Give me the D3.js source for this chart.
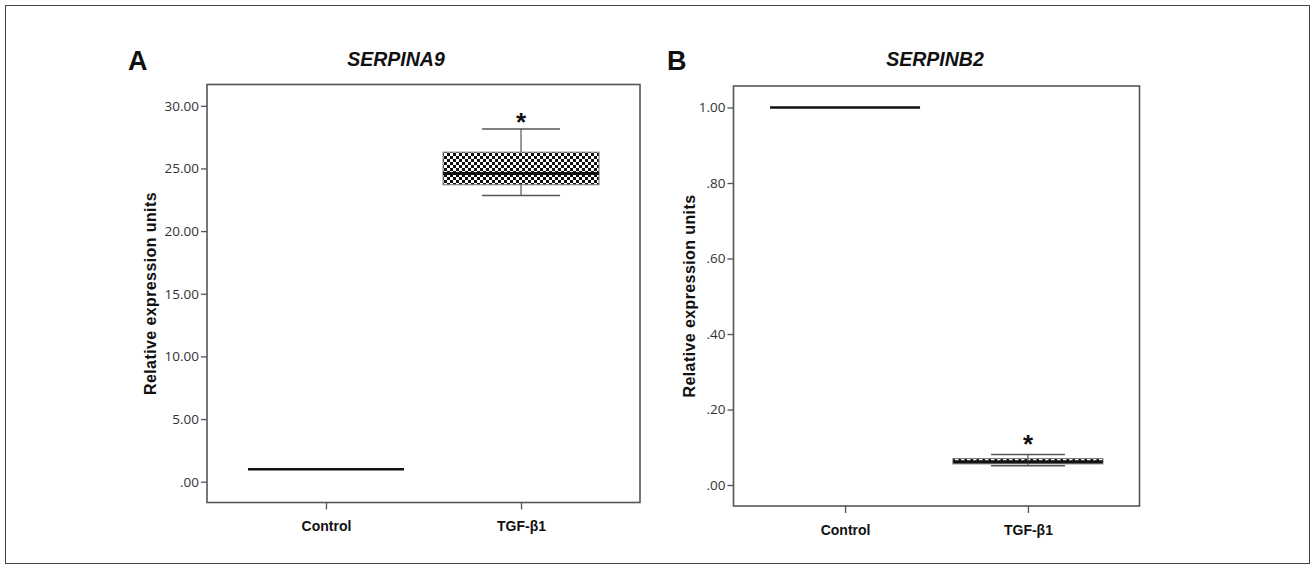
<!DOCTYPE html>
<html><head><meta charset="utf-8">
<script src="https://cdn.jsdelivr.net/npm/d3@7"></script>
<style>body{margin:0;background:#fff}svg{display:block}</style>
</head><body>
<svg id="chart" width="1315" height="569"></svg>
<script>
// ---- data ----
const groups = ["Control", "TGF-β1"];
const titles = ["SERPINA9", "SERPINB2"];
const panelLetters = ["A", "B"];
const yLabel = "Relative expression units";
// box stats [min, q1, median, q3, max] for Control, TGF-β1
const statsA = [[1.0, 1.0, 1.0, 1.0, 1.0], [22.85, 23.7, 24.6, 26.3, 28.15]];
const statsB = [[1.0, 1.0, 1.0, 1.0, 1.0], [0.051, 0.056, 0.062, 0.070, 0.081]];
const ticksA = [0, 5, 10, 15, 20, 25, 30];
const tickLabelsA = [".00", "5.00", "10.00", "15.00", "20.00", "25.00", "30.00"];
const ticksB = [0, 0.2, 0.4, 0.6, 0.8, 1.0];
const tickLabelsB = [".00", ".20", ".40", ".60", ".80", "1.00"];
const domainA = [-1.66, 31.7];
const domainB = [-0.0556, 1.057];
const signif = [false, true];

// ---- layout ----
const svg = d3.select("#chart");
svg.append("rect").attr("x", 5.5).attr("y", 5.5).attr("width", 1304).attr("height", 558)
  .attr("fill", "none").attr("stroke", "#444").attr("stroke-width", 1);

const defs = svg.append("defs");
const pA = defs.append("pattern").attr("id", "checkA").attr("patternUnits", "userSpaceOnUse")
  .attr("width", 6).attr("height", 6);
pA.append("rect").attr("width", 6).attr("height", 6).attr("fill", "#fff");
pA.append("rect").attr("x", 0).attr("y", 0).attr("width", 3).attr("height", 3).attr("fill", "#111");
pA.append("rect").attr("x", 3).attr("y", 3).attr("width", 3).attr("height", 3).attr("fill", "#111");
const pB = defs.append("pattern").attr("id", "dashB").attr("patternUnits", "userSpaceOnUse")
  .attr("width", 6).attr("height", 6).attr("y", 0.5);
pB.append("rect").attr("width", 6).attr("height", 6).attr("fill", "#111");
pB.append("rect").attr("x", 1).attr("y", 2).attr("width", 3.5).attr("height", 2).attr("fill", "#fff");

const panels = [
  {left: 207, right: 640, top: 84.5, bottom: 502.5, stats: statsA, ticks: ticksA, tl: tickLabelsA,
   domain: domainA, fill: "url(#checkA)", half: 78, cap: 39, letterX: 128, titleX: 396, labelX: 150, starDy: 7.5, medW: 3},
  {left: 733.5, right: 1139.5, top: 86, bottom: 506, stats: statsB, ticks: ticksB, tl: tickLabelsB,
   domain: domainB, fill: "url(#dashB)", half: 75, cap: 37, letterX: 667, titleX: 935, labelX: 689, starDy: 10.5, medW: 2}
];

panels.forEach((p, i) => {
  const g = svg.append("g");
  const y = d3.scaleLinear().domain(p.domain).range([p.bottom, p.top]);
  const x = d3.scalePoint().domain(groups).range([p.left, p.right]).padding(0.61);

  g.append("rect").attr("x", p.left).attr("y", p.top).attr("width", p.right - p.left)
    .attr("height", p.bottom - p.top).attr("fill", "none").attr("stroke", "#555").attr("stroke-width", 1.6);

  const ya = d3.axisLeft(y).tickValues(p.ticks).tickSize(6).tickPadding(2)
    .tickFormat((d, k) => p.tl[k]);
  const yg = g.append("g").attr("transform", `translate(${p.left},0)`).call(ya);
  yg.select(".domain").remove();
  yg.selectAll(".tick line").attr("stroke", "#555").attr("stroke-width", 1.3);
  yg.selectAll(".tick text").attr("font-family", "'Open Sans', sans-serif").attr("font-size", 13.5)
    .attr("fill", "#333");

  const xa = d3.axisBottom(x).tickSize(7).tickPadding(12);
  const xg = g.append("g").attr("transform", `translate(0,${p.bottom})`).call(xa);
  xg.select(".domain").remove();
  xg.selectAll(".tick line").attr("stroke", "#555").attr("stroke-width", 1.3);
  xg.selectAll(".tick text").attr("font-family", "'Liberation Sans', Arial, sans-serif")
    .attr("font-weight", "bold").attr("font-size", 14).attr("fill", "#111");

  groups.forEach((grp, k) => {
    const s = p.stats[k];
    const cx = x(grp);
    if (s[0] === s[4]) {
      g.append("line").attr("x1", cx - p.half).attr("x2", cx + p.half)
        .attr("y1", y(s[2])).attr("y2", y(s[2])).attr("stroke", "#111").attr("stroke-width", 2.5);
      return;
    }
    g.append("line").attr("x1", cx).attr("x2", cx).attr("y1", y(s[4])).attr("y2", y(s[0]))
      .attr("stroke", "#555").attr("stroke-width", 1.2);
    [s[0], s[4]].forEach(v => {
      g.append("line").attr("x1", cx - p.cap).attr("x2", cx + p.cap).attr("y1", y(v)).attr("y2", y(v))
        .attr("stroke", "#555").attr("stroke-width", 1.5);
    });
    g.append("rect").attr("x", cx - p.half).attr("width", 2 * p.half)
      .attr("y", y(s[3])).attr("height", y(s[1]) - y(s[3]))
      .attr("fill", p.fill).attr("stroke", "#777").attr("stroke-width", 1);
    g.append("line").attr("x1", cx - p.half).attr("x2", cx + p.half).attr("y1", y(s[2])).attr("y2", y(s[2]))
      .attr("stroke", "#111").attr("stroke-width", p.medW);
    if (i === 1) {
      g.append("line").attr("x1", cx).attr("x2", cx).attr("y1", y(s[3])).attr("y2", y(s[1]))
        .attr("stroke", "#333").attr("stroke-width", 1);
    }
    if (signif[k]) {
      g.append("text").attr("x", cx).attr("y", y(s[4]) - p.starDy).attr("text-anchor", "middle")
        .attr("font-family", "'Liberation Sans', Arial, sans-serif").attr("font-weight", "bold")
        .attr("font-size", 26).attr("fill", "#111").attr("dy", "0.35em").text("*");
    }
  });

  g.append("text").attr("transform", `translate(${p.labelX},${(p.top + p.bottom) / 2}) rotate(-90)`)
    .attr("text-anchor", "middle").attr("dy", "0.35em")
    .attr("font-family", "'Liberation Sans', Arial, sans-serif").attr("font-weight", "bold")
    .attr("font-size", 16).attr("letter-spacing", 0.4).attr("fill", "#111").text(yLabel);

  g.append("text").attr("x", p.titleX).attr("y", 66).attr("text-anchor", "middle")
    .attr("font-family", "'Liberation Sans', Arial, sans-serif").attr("font-weight", "bold")
    .attr("font-style", "italic").attr("font-size", 19.5).attr("fill", "#111").text(titles[i]);

  g.append("text").attr("x", p.letterX).attr("y", 70)
    .attr("font-family", "'Liberation Sans', Arial, sans-serif").attr("font-weight", "bold")
    .attr("font-size", 27).attr("fill", "#111").text(panelLetters[i]);
});
</script>
</body></html>
